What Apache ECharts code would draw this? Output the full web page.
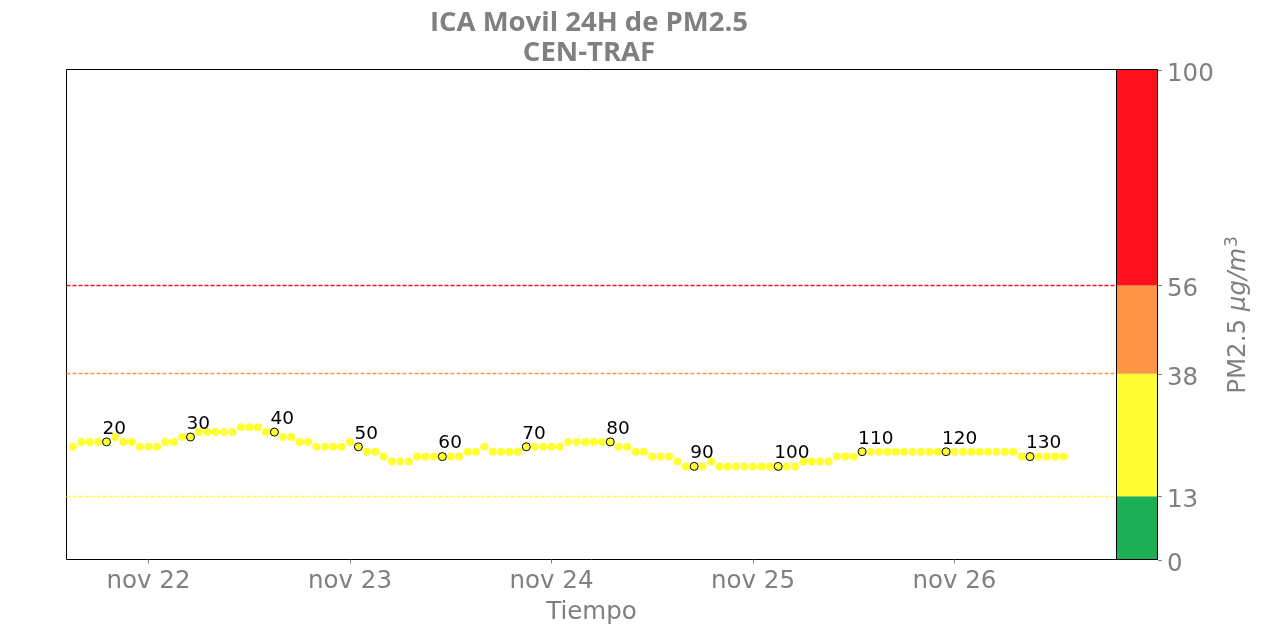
<!DOCTYPE html>
<html><head><meta charset="utf-8">
<script src="https://cdn.jsdelivr.net/npm/echarts@6/dist/echarts.min.js"></script>
<style>html,body{margin:0;padding:0;background:#fff}#c{width:1262px;height:633px}</style>
</head><body><div id="c"></div>
<script>
// sample numbering and timing (hourly samples, hours relative to nov 22 00:00)
const firstPoint = 16;
const firstHour = -9;
const pm25 = [
  23,24,24,24,24,25,24,24,23,23,23,24,24,25,25,26,26,26,26,26,
  27,27,27,26,26,25,25,24,24,23,23,23,23,24,23,22,22,21,20,20,
  20,21,21,21,21,21,21,22,22,23,22,22,22,22,23,23,23,23,23,24,
  24,24,24,24,24,23,23,22,22,21,21,21,20,19,19,19,20,19,19,19,
  19,19,19,19,19,19,19,20,20,20,20,21,21,21,22,22,22,22,22,22,
  22,22,22,22,22,22,22,22,22,22,22,22,22,21,21,21,21,21,21
];
const labelEvery = 10;
const tickHours = [0, 24, 48, 72, 96];
const tickLabels = ['nov 22', 'nov 23', 'nov 24', 'nov 25', 'nov 26'];
const xMin = -9.77, xMax = 115.3;
const bandBounds = [0, 13, 38, 56, 100];
const bandColors = ['#1daf55', '#ffff33', '#ff9645', '#ff101f'];
const thresholdValues = [13, 38, 56];
const thresholdColors = ['#ffff33', '#ff9645', '#ff1020'];

const pts = pm25.map((v, k) => [firstHour + k, v, firstPoint + k]);
const labeled = pts.filter(p => p[2] % labelEvery === 0);

const gray = '#808080';
const font = 'DejaVu Sans';

const chart = echarts.init(document.getElementById('c'), null, {renderer: 'canvas'});
const barSeries = bandColors.map((c, k) => ({
  type: 'bar', xAxisIndex: 1, yAxisIndex: 1, stack: 'cb',
  data: [bandBounds[k + 1] - bandBounds[k]],
  barWidth: '100%', itemStyle: {color: c}, silent: true
}));

chart.setOption({
  animation: false,
  backgroundColor: '#fff',
  title: {
    text: 'ICA Movil 24H de PM2.5\nCEN-TRAF',
    left: 584, top: 3, textAlign: 'center',
    textStyle: {fontFamily: 'Open Sans', fontWeight: 'bold', fontSize: 27.5, color: gray, lineHeight: 30}
  },
  grid: [
    {left: 66.5, top: 69.5, width: 1050, height: 490, show: true, borderColor: '#000', borderWidth: 1, backgroundColor: 'transparent'},
    {left: 1117, top: 70, width: 41, height: 490, show: false}
  ],
  xAxis: [
    {
      type: 'value', gridIndex: 0, min: xMin, max: xMax,
      axisLine: {show: false}, splitLine: {show: false},
      axisTick: {show: true, customValues: tickHours, length: 4, lineStyle: {color: gray}},
      axisLabel: {customValues: tickHours, margin: 10, fontFamily: font, fontSize: 24.5, color: gray,
        formatter: v => tickLabels[tickHours.indexOf(v)]},
      name: 'Tiempo', nameLocation: 'middle', nameGap: 41,
      nameTextStyle: {fontFamily: font, fontSize: 24.5, color: gray}
    },
    {type: 'category', gridIndex: 1, data: [''], show: false}
  ],
  yAxis: [
    {type: 'value', gridIndex: 0, min: 0, max: 100, show: false},
    {
      type: 'value', gridIndex: 1, min: 0, max: 100, position: 'right',
      axisLine: {show: false}, splitLine: {show: false},
      axisTick: {show: true, customValues: bandBounds, length: 4, lineStyle: {color: gray}},
      axisLabel: {customValues: bandBounds, margin: 9, verticalAlign: 'top', lineHeight: 9,
        fontFamily: font, fontSize: 24.5, color: gray},
      name: '{a|PM2.5 }{i|μg/m}{s|3}', nameLocation: 'middle', nameGap: 66,
      nameTextStyle: {
        fontFamily: font, fontSize: 24.5, color: gray,
        rich: {
          a: {fontFamily: font, fontSize: 24.5, color: gray},
          i: {fontFamily: font, fontSize: 24.5, color: gray, fontStyle: 'italic'},
          s: {fontFamily: font, fontSize: 17, color: gray, verticalAlign: 'bottom', padding: [0, 0, 13, 1]}
        }
      }
    }
  ],
  graphic: [{
    type: 'rect', shape: {x: 1116.5, y: 69.5, width: 41, height: 490},
    style: {fill: 'none', stroke: '#000', lineWidth: 1}, z: 100, silent: true
  }],
  series: [
    {
      type: 'scatter', xAxisIndex: 0, yAxisIndex: 0, data: pts,
      symbolSize: 8, itemStyle: {color: '#ffff33', opacity: 1}, silent: true,
      markLine: {
        silent: true, symbol: 'none', label: {show: false},
        data: thresholdValues.map((v, k) => ({yAxis: v, lineStyle: {color: thresholdColors[k], type: [4, 2], width: 1.3, opacity: 1}}))
      }
    },
    {
      type: 'scatter', xAxisIndex: 0, yAxisIndex: 0, data: labeled, z: 3,
      symbolSize: 8, itemStyle: {color: '#ffff33', borderColor: '#000', borderWidth: 1, opacity: 1}, silent: true,
      label: {show: true, position: 'top', distance: -1, align: 'left', offset: [-4, 0],
        fontFamily: font, fontSize: 18.5, color: '#000', formatter: p => String(p.data[2])}
    },
    ...barSeries
  ]
});
</script></body></html>
